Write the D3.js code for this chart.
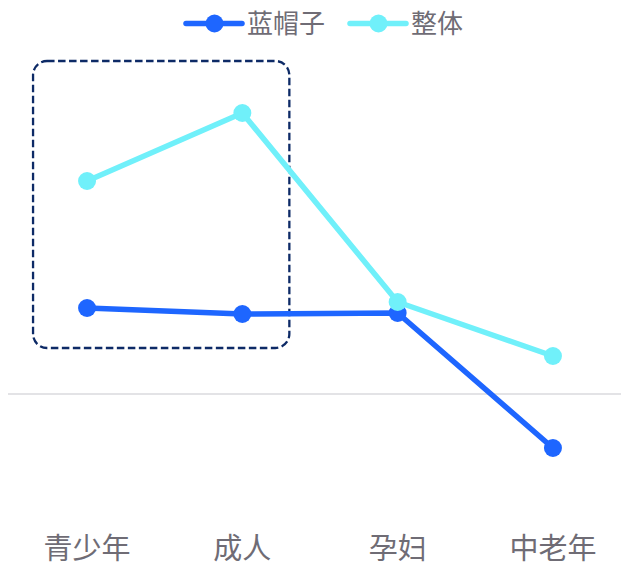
<!DOCTYPE html>
<html>
<head>
<meta charset="utf-8">
<script src="https://cdn.jsdelivr.net/npm/d3@7"></script>
<style>
  html, body { margin: 0; padding: 0; background: #fff; }
  svg { display: block; }
  text { font-family: "Noto Sans CJK SC", "Noto Sans", sans-serif; }
</style>
</head>
<body>
<svg id="chart" width="621" height="567"></svg>
<script>
const categories = ["青少年", "成人", "孕妇", "中老年"];
const seriesNames = ["蓝帽子", "整体"];
const blueHatValues = [0.86, 0.80, 0.81, -0.54];
const overallValues = [2.13, 2.81, 0.92, 0.38];
const highlightCategories = ["青少年", "成人"];

const W = 621, H = 567;
const colors = { "蓝帽子": "#1E66FF", "整体": "#70F0FA" };
const series = [
  { name: seriesNames[0], values: blueHatValues },
  { name: seriesNames[1], values: overallValues }
];

const svg = d3.select("#chart");

const x = d3.scaleBand().domain(categories).range([9.4, 630.6]).padding(0);
const cx = c => x(c) + x.bandwidth() / 2;
const y = d3.scaleLinear().domain([-1, 3]).range([494, 94]);

// zero line
svg.append("line")
  .attr("x1", 8).attr("x2", W)
  .attr("y1", y(0)).attr("y2", y(0))
  .attr("stroke", "#e3e3e6").attr("stroke-width", 2);

// x axis labels
const xAxis = d3.axisBottom(x).tickSize(0).tickPadding(0);
const gx = svg.append("g").attr("transform", "translate(0,558.5)").call(xAxis);
gx.select(".domain").remove();
gx.selectAll("text")
  .attr("y", 0)
  .attr("dy", "0")
  .style("font-size", "29px")
  .style("font-family", "'Noto Sans CJK SC', sans-serif")
  .attr("fill", "#6f6c75");

// highlight dashed box
const hx0 = cx(highlightCategories[0]) - 54;
const hx1 = cx(highlightCategories[1]) + 47;
svg.append("rect")
  .attr("x", hx0).attr("y", 61)
  .attr("width", hx1 - hx0).attr("height", 287)
  .attr("rx", 14).attr("ry", 14)
  .attr("fill", "none")
  .attr("stroke", "#0d2a66")
  .attr("stroke-width", 2.3)
  .attr("stroke-dasharray", "7.5,3.5");

// lines
const line = d3.line().x((d, i) => cx(categories[i])).y(d => y(d));
series.forEach(s => {
  const g = svg.append("g");
  g.append("path")
    .datum(s.values)
    .attr("d", line)
    .attr("fill", "none")
    .attr("stroke", colors[s.name])
    .attr("stroke-width", 5.5)
    .attr("stroke-linejoin", "round");
  g.selectAll("circle")
    .data(s.values)
    .join("circle")
    .attr("cx", (d, i) => cx(categories[i]))
    .attr("cy", d => y(d))
    .attr("r", 9)
    .attr("fill", colors[s.name]);
});

// legend
const legendItems = [
  { name: seriesNames[0], x: 186 },
  { name: seriesNames[1], x: 350 }
];
const lg = svg.append("g");
legendItems.forEach(it => {
  const g = lg.append("g").attr("transform", `translate(${it.x},23.5)`);
  g.append("line").attr("x1", 0).attr("x2", 56).attr("y1", 0).attr("y2", 0)
    .attr("stroke", colors[it.name]).attr("stroke-width", 5.5).attr("stroke-linecap", "round");
  g.append("circle").attr("cx", 28.5).attr("cy", 0).attr("r", 9).attr("fill", colors[it.name]);
  g.append("text").attr("x", 61).attr("y", 9.8)
    .style("font-size", "26px").attr("fill", "#6f6c75").text(it.name);
});
</script>
</body>
</html>
